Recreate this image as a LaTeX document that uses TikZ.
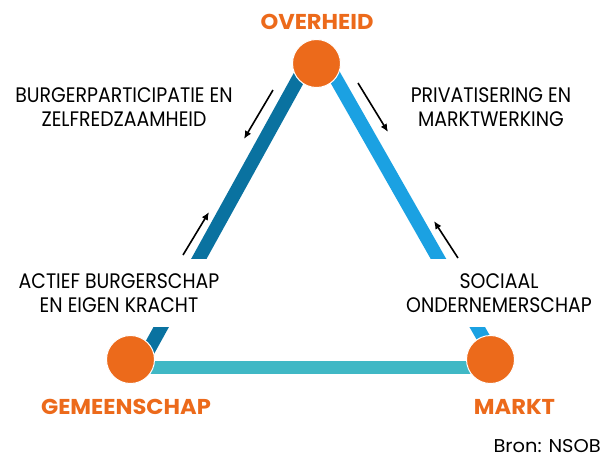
\documentclass[tikz,border=0pt]{standalone}
\usepackage{fontspec}
\setmainfont{Poppins}
\newfontfamily\lblfont[FakeStretch=0.9]{Poppins}
\newfontfamily\widefont[FakeStretch=1.05]{Poppins}
\usetikzlibrary{arrows.meta}
\definecolor{orng}{HTML}{EC6A1B}
\definecolor{darkb}{HTML}{0A72A0}
\definecolor{lightb}{HTML}{1BA1E2}
\definecolor{teal}{HTML}{40B8C5}
\begin{document}
\begin{tikzpicture}[x=1pt,y=-1pt,
  corner/.style={circle,fill=orng,draw=white,line width=1pt,minimum size=48pt,inner sep=0pt},
  cornerlabel/.style={text=orng,font=\widefont\bfseries\fontsize{21.5}{24}\selectfont,inner sep=0pt},
  edge/.style={line width=13.5pt},
  lbl/.style={align=center,font=\lblfont\fontsize{21}{24.5}\selectfont,inner sep=0pt},
  boxlbl/.style={lbl,fill=white,minimum height=68pt,inner xsep=6pt},
  flow/.style={line width=1.6pt,-{Latex[length=8pt,width=7pt]}}]
\useasboundingbox (0,0) rectangle (604,459);
% edge end points
\coordinate (lt) at (307,63);
\coordinate (lb) at (143,360);
\coordinate (rt) at (327,63);
\coordinate (rb) at (496,360);
\coordinate (bl) at (130,367.5);
\coordinate (br) at (490,367.5);
\draw[edge,darkb] (lt) -- (lb);
\draw[edge,lightb] (rt) -- (rb);
\draw[edge,teal] (bl) -- (br);
% labels covering edges
\node[boxlbl] (actief) at (119,293) {ACTIEF BURGERSCHAP\\EN EIGEN KRACHT};
\node[boxlbl] (sociaal) at (499,293) {SOCIAAL\\ONDERNEMERSCHAP};
\node[lbl] (burger) at (124,107) {BURGERPARTICIPATIE EN\\ZELFREDZAAMHEID};
\node[lbl] (privat) at (491,107) {PRIVATISERING EN\\MARKTWERKING};
% corners
\node[corner] (overheid) at (316.5,63.5) {};
\node[corner] (gemeen) at (130.5,359.5) {};
\node[corner] (markt) at (490.5,359.5) {};
\node[cornerlabel] (tOverheid) at (317,22) {OVERHEID};
\node[cornerlabel] (tGemeen) at (126,406.5) {GEMEENSCHAP};
\node[cornerlabel] (tMarkt) at (514.5,406.5) {MARKT};
\node[inner sep=0pt,anchor=east,font=\widefont\fontsize{18.5}{20}\selectfont] (bron) at (601,446.5) {Bron: NSOB};
% flow arrows
\coordinate (a1s) at (273,90);
\coordinate (a1e) at (244,139);
\coordinate (a2s) at (358,83);
\coordinate (a2e) at (388,132);
\coordinate (a3s) at (183,255);
\coordinate (a3e) at (209,212);
\coordinate (a4s) at (458,258);
\coordinate (a4e) at (434,221);
\draw[flow] (a1s) -- (a1e);
\draw[flow] (a2s) -- (a2e);
\draw[flow] (a3s) -- (a3e);
\draw[flow] (a4s) -- (a4e);
\end{tikzpicture}
\end{document}
